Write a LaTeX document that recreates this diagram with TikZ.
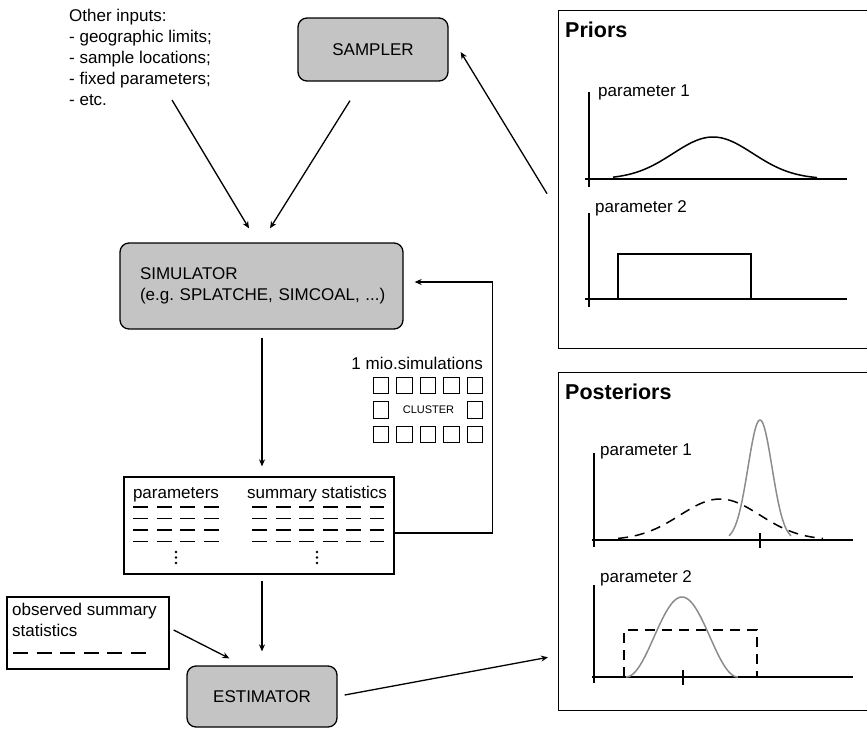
\documentclass[tikz,border=0pt]{standalone}
\usepackage{fontspec}
\setmainfont{Liberation Sans}
\usetikzlibrary{arrows.meta,calc}
\definecolor{boxgray}{RGB}{196,196,196}
\definecolor{postgray}{RGB}{140,140,140}
\frenchspacing
\begin{document}
\begin{tikzpicture}[x=1pt,y=-1pt,
  every node/.style={font=\fontsize{17}{21}\selectfont, inner sep=0pt},
  arr/.style={line width=1.3pt,-{Stealth[length=7pt,width=6pt]}},
  procbox/.style={draw, line width=1.3pt, fill=boxgray, rounded corners=9pt},
  frame/.style={draw, line width=1.3pt},
  dashrow/.style={line width=1.8pt, dash pattern=on 15pt off 8.5pt},
  axis/.style={line width=1.5pt},
  curve/.style={line width=1.5pt, samples=90, smooth},
  dcurve/.style={line width=1.5pt, dash pattern=on 10pt off 7pt},
  title/.style={font=\bfseries\fontsize{21.5}{26}\selectfont, anchor=base west},
]
\useasboundingbox (0,0) rectangle (867,728);

% ---------- left column ----------
\node[anchor=north west, align=left] (inputs) at (69,8.5)
  {Other inputs:\\- geographic limits;\\- sample locations;\\- fixed parameters;\\- etc.};
\coordinate (inputs-out) at (172,100);

\node[procbox, minimum width=150pt, minimum height=63pt] (sampler) at (373,49.5) {SAMPLER};

\node[procbox, minimum width=283pt, minimum height=86pt, text width=243pt,
      align=left, inner xsep=20pt] (sim) at (261.5,286)
  {\mbox{SIMULATOR}\\\mbox{(e.g.\ SPLATCHE, SIMCOAL, ...)}};

% cluster
\node[anchor=base east] (mio) at (483,369) {1 mio.simulations};
\foreach \x in {373,396.5,420,443.5,467} {
  \draw[line width=1pt] (\x,377) rectangle ++(15.5,16.5);
  \draw[line width=1pt] (\x,426) rectangle ++(15.5,16.5);
}
\draw[line width=1pt] (373,401.5) rectangle ++(15.5,16.5);
\draw[line width=1pt] (467,401.5) rectangle ++(15.5,16.5);
\node[font=\fontsize{11}{13}\selectfont] (cluster) at (428.5,410) {CLUSTER};

% table
\node[frame, minimum width=270pt, minimum height=97pt] (table) at (259,525.5) {};
\node[anchor=base] (tpar) at (176,498) {parameters};
\node[anchor=base] (tsum) at (317,498) {summary statistics};
\foreach \y in {507,518.5,530,541.5} {
  \draw[dashrow] (133,\y) -- (218.5,\y);
  \draw[dashrow] (252,\y) -- (384,\y);
}
\foreach \y in {552,557.5,563} {
  \fill (176,\y) circle (1.4);
  \fill (317,\y) circle (1.4);
}

% observed
\node[frame, minimum width=162pt, minimum height=72pt] (obs) at (88,633) {};
\node[anchor=north west, align=left] (obstext) at (12,602.5) {observed summary\\statistics};
\draw[dashrow] (13,653) -- (146,653);

\node[procbox, minimum width=150pt, minimum height=61pt] (est) at (262,696.5) {ESTIMATOR};

% ---------- priors ----------
\node[frame, anchor=north west, minimum width=320pt, minimum height=338pt] (priors) at (558,10) {};
\node[title] (priorstitle) at (565,37) {Priors};
\node[anchor=base west] (pp1) at (598,96) {parameter 1};
\draw[axis] (589,92) -- (589,187);
\draw[axis] (585,179) -- (847,179);
\draw[curve, domain=613:817] plot (\x, {179-42*exp(-((\x-713)/40)*((\x-713)/40)/2)});
\node[anchor=base west] (pp2) at (595,212) {parameter 2};
\draw[axis] (589,213) -- (589,307);
\draw[axis] (585,299) -- (847,299);
\draw[line width=1.5pt] (618,299) -- (618,254) -- (751,254) -- (751,299);

% ---------- posteriors ----------
\node[frame, anchor=north west, minimum width=320pt, minimum height=338pt] (posts) at (558,372) {};
\node[title] (poststitle) at (565,399) {Posteriors};
\node[anchor=base west] (qp1) at (600,455) {parameter 1};
\draw[axis] (594,453) -- (594,547);
\draw[axis] (592,540) -- (853,540);
\draw[axis] (760,533) -- (760,548);
\draw[dcurve, samples=90, domain=618:823] plot (\x, {540-41*exp(-((\x-720)/40)*((\x-720)/40)/2)});
\draw[curve, postgray, domain=729:791] plot (\x, {540-120*exp(-((\x-760)/12)*((\x-760)/12)/2)});
\node[anchor=base west] (qp2) at (600,582) {parameter 2};
\draw[axis] (594,585) -- (594,683);
\draw[axis] (592,677) -- (853,677);
\draw[axis] (683,670) -- (683,685);
\draw[dcurve] (624,677) -- (624,630) -- (757,630) -- (757,677) -- cycle;
\draw[curve, postgray, domain=626:738] plot (\x, {677-80*cos(90*(\x-682)/56)*cos(90*(\x-682)/56)});

% ---------- connectors ----------
\draw[arr] (inputs-out) -- ([xshift=-12.5pt,yshift=14pt]sim.north);
\draw[arr] ([xshift=-23pt,yshift=-19pt]sampler.south) -- ([xshift=8.5pt,yshift=14pt]sim.north);
\draw[arr] ([xshift=-11pt,yshift=-14pt]priors.west) -- ([xshift=12pt,yshift=-2.5pt]sampler.east);
\draw[arr] ([xshift=0.5pt,yshift=-8pt]sim.south) -- ([xshift=0.5pt,yshift=10pt]sim.south |- table.north);
\draw[arr] ([yshift=-7.5pt]table.east) -- ++(98,0) coordinate (fb) |- ([xshift=11pt,yshift=4pt]sim.east);
\draw[arr] ([yshift=-6pt]table.south -| est.north) -- ([yshift=14pt]est.north);
\draw[arr] ([xshift=4pt,yshift=3pt]obs.east) -- ([xshift=43pt,yshift=7pt]est.north west);
\draw[arr] ([xshift=7pt,yshift=1.5pt]est.east) -- ([xshift=-10pt,yshift=54pt]posts.south west);
\end{tikzpicture}
\end{document}
